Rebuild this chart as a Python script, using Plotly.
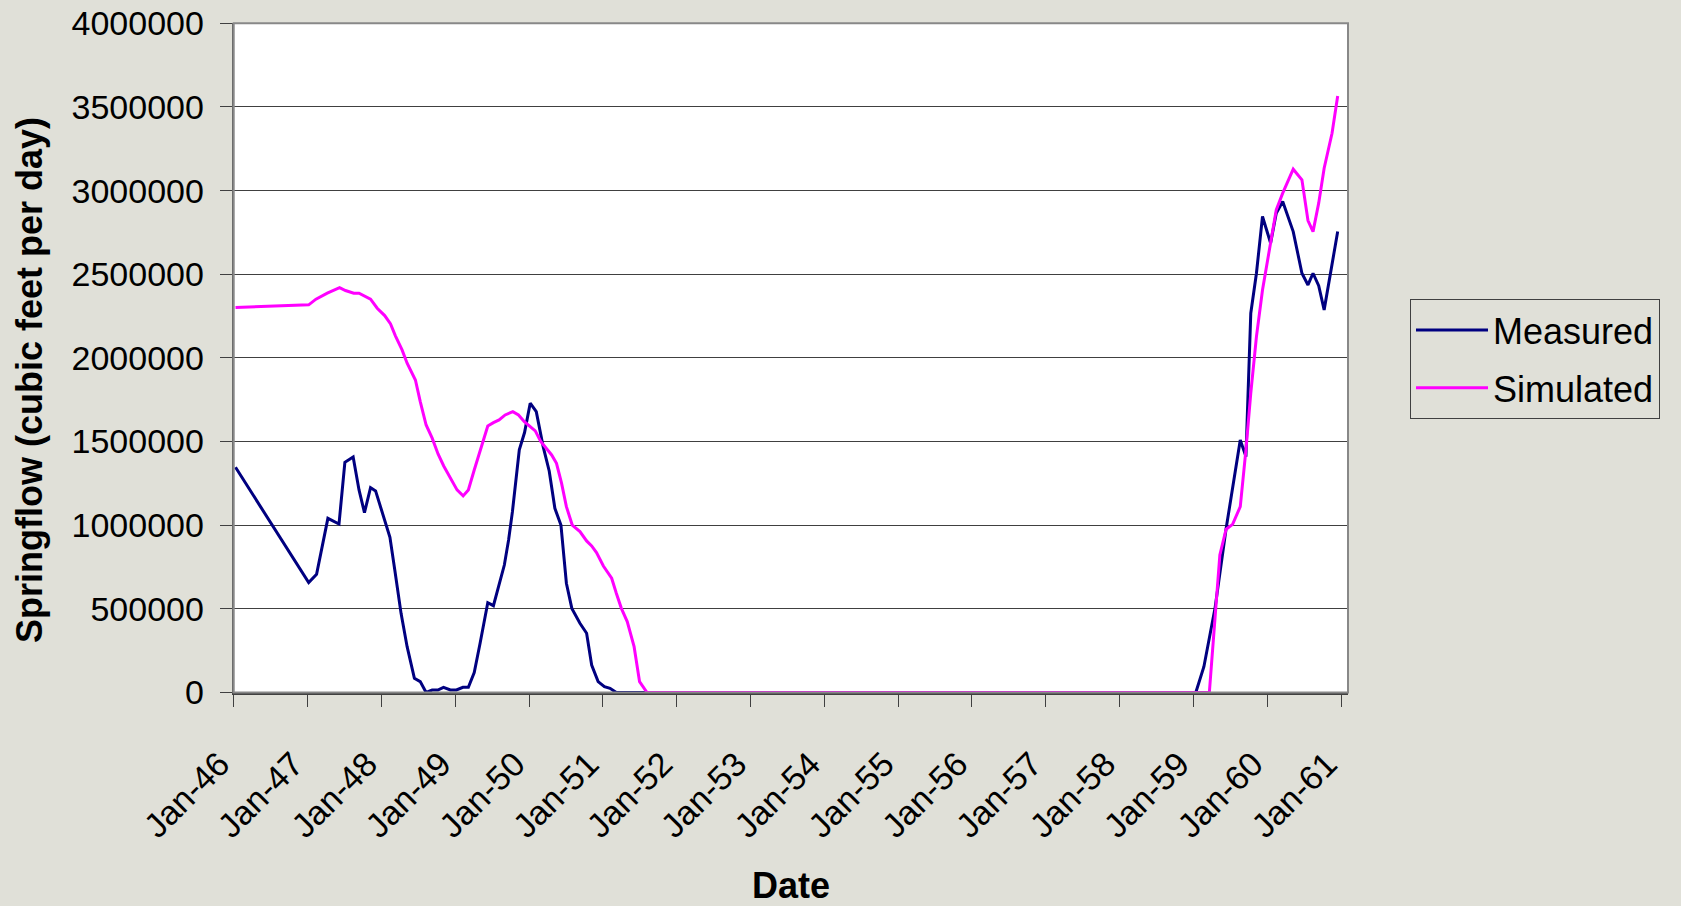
import pandas as pd
import plotly.graph_objects as go

# measured springflow (cubic feet per day)
measured_dates = [
    "1946-01-10", "1947-01-07", "1947-02-15", "1947-04-12", "1947-06-06", "1947-07-05",
    "1947-08-15", "1947-09-13", "1947-10-10", "1947-11-09", "1947-12-04", "1948-01-18",
    "1948-02-13", "1948-03-08", "1948-04-08", "1948-05-08", "1948-06-13", "1948-07-12",
    "1948-08-10", "1948-09-09", "1948-10-07", "1948-11-04", "1948-12-08", "1949-01-07",
    "1949-02-08", "1949-03-07", "1949-04-05", "1949-05-04", "1949-06-11", "1949-07-09",
    "1949-08-03", "1949-09-01", "1949-09-22", "1949-10-11", "1949-11-14", "1949-12-10",
    "1950-01-07", "1950-02-06", "1950-03-12", "1950-04-11", "1950-05-09", "1950-06-08",
    "1950-07-05", "1950-08-01", "1950-09-10", "1950-10-13", "1950-11-07", "1950-12-09",
    "1951-01-09", "1951-02-06", "1951-03-09", "1959-01-13", "1959-02-22", "1959-04-18",
    "1959-06-12", "1959-08-21", "1959-09-18", "1959-10-12", "1959-11-09", "1959-12-09",
    "1960-01-18", "1960-02-15", "1960-03-18", "1960-04-15", "1960-05-09", "1960-06-21",
    "1960-07-21", "1960-08-15", "1960-09-12", "1960-10-09", "1960-12-15",
]
measured_flow = [
    1346000, 657000, 706000, 1041000, 1007000, 1376000,
    1408000, 1211000, 1075000, 1225000, 1205000, 1031000,
    928000, 732000, 473000, 274000, 85000, 65000,
    0, 15000, 15000, 31000, 15000, 15000,
    31000, 31000, 119000, 294000, 537000, 519000,
    633000, 762000, 912000, 1081000, 1450000, 1554000,
    1729000, 1679000, 1470000, 1324000, 1101000, 1001000,
    653000, 503000, 414000, 354000, 164000, 65000,
    35000, 25000, 0, 0, 154000, 503000,
    980000, 1509000, 1410000, 2267000, 2506000, 2845000,
    2686000, 2865000, 2935000, 2835000, 2755000, 2506000,
    2436000, 2506000, 2432000, 2287000, 2755000,
]

# simulated springflow (cubic feet per day)
simulated_dates = [
    "1946-01-10", "1947-01-07", "1947-02-12", "1947-04-09", "1947-06-09", "1947-07-08",
    "1947-08-18", "1947-09-13", "1947-11-09", "1947-12-12", "1948-01-18", "1948-02-16",
    "1948-03-11", "1948-04-13", "1948-05-08", "1948-06-18", "1948-07-12", "1948-08-10",
    "1948-09-09", "1948-10-08", "1948-11-05", "1948-12-08", "1949-01-10", "1949-02-09",
    "1949-03-07", "1949-04-05", "1949-05-04", "1949-06-11", "1949-07-09", "1949-08-06",
    "1949-09-05", "1949-10-13", "1949-11-10", "1949-12-09", "1950-01-07", "1950-02-01",
    "1950-02-28", "1950-03-29", "1950-04-23", "1950-05-17", "1950-06-11", "1950-07-05",
    "1950-08-03", "1950-09-10", "1950-10-13", "1950-11-07", "1950-12-01", "1951-01-04",
    "1951-02-14", "1951-03-09", "1951-04-03", "1951-05-02", "1951-06-05", "1951-07-02",
    "1951-08-08", "1959-03-21", "1959-05-12", "1959-06-12", "1959-07-14", "1959-08-21",
    "1959-09-18", "1959-10-12", "1959-11-09", "1959-12-09", "1960-01-18", "1960-02-15",
    "1960-03-18", "1960-05-09", "1960-06-21", "1960-07-21", "1960-08-15", "1960-09-12",
    "1960-10-09", "1960-11-17", "1960-12-15",
]
simulated_flow = [
    2301000, 2317000, 2351000, 2387000, 2420000, 2403000,
    2387000, 2387000, 2351000, 2297000, 2253000, 2203000,
    2132000, 2048000, 1968000, 1868000, 1739000, 1599000,
    1520000, 1426000, 1354000, 1285000, 1211000, 1175000,
    1211000, 1330000, 1440000, 1593000, 1613000, 1629000,
    1659000, 1679000, 1659000, 1619000, 1589000, 1564000,
    1500000, 1454000, 1420000, 1370000, 1251000, 1111000,
    1001000, 962000, 906000, 876000, 836000, 756000,
    683000, 593000, 503000, 424000, 274000, 65000,
    0, 0, 822000, 976000, 1005000, 1111000,
    1450000, 1789000, 2127000, 2406000, 2686000, 2885000,
    2985000, 3128000, 3064000, 2821000, 2755000, 2925000,
    3134000, 3343000, 3566000,
]

year_ticks = pd.date_range("1946-01-01", "1961-01-01", freq="YS")
year_labels = [d.strftime("%b-%y") for d in year_ticks]
flow_ticks = list(range(0, 4000001, 500000))

W, H = 1681, 906
bg = "#E0E0D8"
font = "Liberation Sans, Arial, sans-serif"

fig = go.Figure()
fig.add_trace(go.Scatter(x=pd.to_datetime(measured_dates), y=measured_flow, mode="lines",
                         name="Measured", line=dict(color="#000080", width=3),
                         legendgroup="m"))
fig.add_trace(go.Scatter(x=pd.to_datetime(simulated_dates), y=simulated_flow, mode="lines",
                         name="Simulated", line=dict(color="#FF00FF", width=3),
                         legendgroup="s"))

x0, x1 = 233.7 / W, 1348 / W
y0, y1 = 1 - 692.5 / H, 1 - 23.3 / H

fig.update_layout(
    width=W, height=H,
    margin=dict(l=0, r=0, t=0, b=0),
    paper_bgcolor=bg, plot_bgcolor="white",
    font=dict(family=font, size=34, color="black"),
    showlegend=True,
    legend=dict(x=1410 / W, y=1 - 299 / H, xanchor="left", yanchor="top",
                bgcolor=bg, bordercolor="#404040", borderwidth=1,
                font=dict(size=36), tracegroupgap=8, itemwidth=72),
    xaxis=dict(domain=[x0, x1], type="date", range=["1946-01-01", "1961-02-04"],
               tickvals=year_ticks, ticktext=year_labels, tickangle=-45,
               ticks="outside", ticklen=12, tickcolor="#404040",
               showgrid=False, showline=True, linecolor="#404040", linewidth=2,
               zeroline=False, ticklabelstandoff=24, ticklabelshift=-14,
               automargin=False),
    yaxis=dict(domain=[y0, y1], range=[0, 4000000], tickvals=flow_ticks,
               tickformat="d", ticks="outside", ticklen=12, tickcolor="#404040",
               showgrid=True, gridcolor="#404040", gridwidth=1,
               showline=True, linecolor="#606060", linewidth=2, zeroline=False,
               ticklabelstandoff=9, automargin=False),
)

# plot frame
fig.add_shape(type="rect", xref="paper", yref="paper", x0=x0, x1=x1, y0=y0, y1=y1,
              line=dict(color="#888888", width=2), layer="above")

fig.add_annotation(text="<b>Date</b>", xref="paper", yref="paper",
                   x=(x0 + x1) / 2, y=1 - 885 / H, xanchor="center", yanchor="middle",
                   showarrow=False, font=dict(size=36))
fig.add_annotation(text="<b>Springflow (cubic feet per day)</b>", xref="paper", yref="paper",
                   x=30 / W, y=1 - 380 / H, xanchor="center", yanchor="middle",
                   showarrow=False, textangle=-90, font=dict(size=36))

# drop the default page margin so the figure sits at the window corner
fig.write_html("out.html", config={"displayModeBar": False},
               post_script="document.body.style.margin='0';")
